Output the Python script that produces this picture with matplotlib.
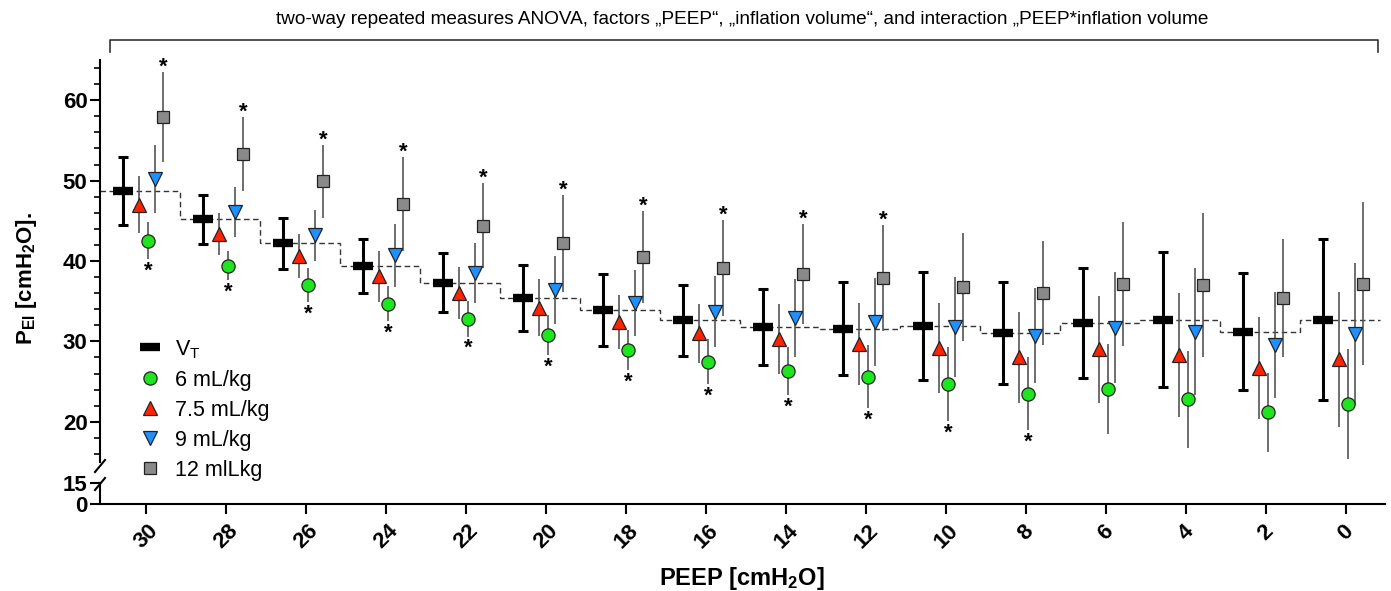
import numpy as np
import matplotlib
matplotlib.use('Agg')
import matplotlib.pyplot as plt
from matplotlib.lines import Line2D
from matplotlib.ticker import MultipleLocator

plt.rcParams['font.family'] = ['Liberation Sans', 'DejaVu Sans']
plt.rcParams['mathtext.fontset'] = 'custom'
plt.rcParams['mathtext.rm'] = 'Liberation Sans'
plt.rcParams['mathtext.bf'] = 'Liberation Sans:bold'
plt.rcParams['mathtext.it'] = 'Liberation Sans:italic'

# PEEP steps (left to right)
peep = [30, 28, 26, 24, 22, 20, 18, 16, 14, 12, 10, 8, 6, 4, 2, 0]

# V_T (pooled) mean +- SD
vt_mean = [48.7, 45.2, 42.2, 39.4, 37.3, 35.4, 33.9, 32.6, 31.8, 31.6, 31.9, 31.0, 32.3, 32.7, 31.2, 32.7]
vt_sd = [4.2, 3.05, 3.15, 3.35, 3.7, 4.05, 4.45, 4.4, 4.75, 5.75, 6.75, 6.35, 6.8, 8.4, 7.25, 10.0]

# inflation volumes
ml6_mean = [42.5, 39.4, 37.0, 34.7, 32.8, 30.8, 28.9, 27.5, 26.3, 25.6, 24.7, 23.5, 24.1, 22.8, 21.2, 22.2]
ml6_sd = [2.3, 1.8, 2.1, 2.2, 2.2, 2.5, 2.5, 2.8, 3.0, 3.9, 4.6, 4.5, 5.6, 6.0, 4.9, 6.8]
ml75_mean = [47.0, 43.4, 40.6, 38.1, 36.0, 34.2, 32.4, 31.0, 30.3, 29.7, 29.2, 28.0, 29.0, 28.3, 26.7, 27.8]
ml75_sd = [3.55, 2.6, 2.75, 3.2, 3.2, 3.5, 3.4, 3.7, 4.3, 5.1, 5.6, 5.7, 6.6, 7.7, 6.3, 8.4]
ml9_mean = [50.2, 46.1, 43.2, 40.7, 38.5, 36.4, 34.8, 33.7, 32.9, 32.4, 31.8, 30.7, 31.7, 31.2, 29.6, 30.9]
ml9_sd = [4.2, 3.1, 3.2, 3.9, 3.7, 4.2, 4.1, 4.45, 4.8, 5.5, 6.2, 5.9, 6.9, 7.9, 6.6, 8.8]
ml12_mean = [57.9, 53.3, 49.9, 47.1, 44.4, 42.2, 40.5, 39.1, 38.4, 37.9, 36.8, 36.0, 37.1, 37.0, 35.4, 37.2]
ml12_sd = [5.6, 4.6, 4.5, 5.8, 5.3, 6.0, 5.7, 6.0, 6.2, 6.6, 6.7, 6.5, 7.7, 9.0, 7.3, 10.1]

# significance stars (True = star)
star_6 = [True] * 12 + [False] * 4
star_12 = [True] * 10 + [False] * 6

title = ('two-way repeated measures ANOVA, factors \u201ePEEP\u201c, \u201einflation volume\u201c, '
         'and interaction \u201ePEEP*inflation volume')

W, H = 1391, 591
fig = plt.figure(figsize=(W / 100, H / 100), dpi=100)

def fx(px):
    return px / W

def fy(px):
    return 1 - px / H

ax_left, ax_right = 100, 1385
ax = fig.add_axes([fx(ax_left), fy(462), fx(ax_right - ax_left), fy(60) - fy(462)])
axb = fig.add_axes([fx(ax_left), fy(504), fx(ax_right - ax_left), fy(483) - fy(504)])

idx = np.arange(len(peep))
xlim = (-0.575, (ax_right - 146) / 80)

# dashed step line of V_T
edges = np.arange(len(peep) + 1) - 0.575
ax.stairs(vt_mean, edges, baseline=None, color='#333333', lw=1.0, ls=(0, (4, 2.5)), zorder=1)

series = [
    (ml75_mean, ml75_sd, -0.09, '^', '#ff2200', 9.5, '7.5 mL/kg'),
    (ml6_mean, ml6_sd, 0.025, 'o', '#1ee61e', 9.5, '6 mL/kg'),
    (ml9_mean, ml9_sd, 0.11, 'v', '#1e90ff', 9.5, '9 mL/kg'),
    (ml12_mean, ml12_sd, 0.21, 's', '#8a8a8a', 9, '12 mlLkg'),
]
for mean, sd, off, mk, col, ms, lab in series:
    ax.errorbar(idx + off, mean, yerr=sd, fmt='none', ecolor='#555555', elinewidth=1.2, zorder=2)
for mean, sd, off, mk, col, ms, lab in series:
    ax.plot(idx + off, mean, ls='none', marker=mk, ms=ms, mfc=col, mec='#222222', mew=0.9, zorder=4)

ax.errorbar(idx - 0.29, vt_mean, yerr=vt_sd, fmt='none', ecolor='black', elinewidth=2.2,
            capsize=3.3, capthick=2.2, zorder=3)
ax.plot(idx - 0.29, vt_mean, ls='none', marker='_', ms=14, mew=6, color='black', zorder=5)

# stars
for i in idx:
    if star_12[i]:
        ax.annotate('*', xy=(i + 0.21, ml12_mean[i] + ml12_sd[i]), xytext=(0, -4),
                    textcoords='offset points', ha='center', va='bottom',
                    fontsize=16, fontweight='bold')
    if star_6[i]:
        ax.annotate('*', xy=(i + 0.025, ml6_mean[i] - ml6_sd[i]), xytext=(0, -1),
                    textcoords='offset points', ha='center', va='top',
                    fontsize=16, fontweight='bold')

# upper axis
ax.set_xlim(*xlim)
ax.set_ylim(15, 65)
ax.set_yticks([20, 30, 40, 50, 60])
ax.yaxis.set_minor_locator(MultipleLocator(2))
for s in ['top', 'right', 'bottom']:
    ax.spines[s].set_visible(False)
ax.spines['left'].set_linewidth(1.5)
ax.tick_params(axis='x', bottom=False, labelbottom=False)
ax.tick_params(axis='y', which='major', length=7, width=1.5, labelsize=16, pad=2)
ax.tick_params(axis='y', which='minor', length=4.5, width=1.2)
for t in ax.get_yticklabels():
    t.set_fontweight('bold')

# lower axis (0-15 segment)
axb.set_xlim(*xlim)
axb.set_ylim(0, 15)
axb.set_yticks([0, 15])
for s in ['top', 'right']:
    axb.spines[s].set_visible(False)
axb.spines['left'].set_linewidth(1.5)
axb.spines['bottom'].set_linewidth(1.5)
axb.set_xticks(idx)
axb.set_xticklabels([str(p) for p in peep], rotation=45, ha='center', fontsize=16, fontweight='bold')
axb.tick_params(axis='x', length=7, width=1.5, pad=5)
axb.tick_params(axis='y', length=7, width=1.5, labelsize=16, pad=2)
for t in axb.get_yticklabels():
    t.set_fontweight('bold')

# break marks
for yb in (466, 484):
    fig.add_artist(Line2D([fx(ax_left - 5), fx(ax_left + 5)], [fy(yb + 6), fy(yb - 6)],
                          color='black', lw=1.5))

# labels
fig.text(fx(27), fy(278), r'P$_{\mathbf{EI}}$ [cmH$_{\mathbf{2}}$O].', rotation=90,
         ha='center', va='center', fontsize=16, fontweight='bold')
fig.text(fx(742), fy(578), r'PEEP [cmH$_{\mathbf{2}}$O]', ha='center', va='center',
         fontsize=17, fontweight='bold')

# bracket and title
fig.add_artist(Line2D([fx(110), fx(110), fx(1378), fx(1378)], [fy(52), fy(40), fy(40), fy(52)],
                      color='#333333', lw=1.2))
fig.text(fx(742), fy(19), title, ha='center', va='center', fontsize=13.7)

# legend
handles = [Line2D([], [], ls='none', marker='_', ms=14, mew=6, color='black')]
labels = [r'V$_\mathrm{T}$']
for lab, mk, col, ms in [('6 mL/kg', 'o', '#1ee61e', 9.5), ('7.5 mL/kg', '^', '#ff2200', 9.5),
                         ('9 mL/kg', 'v', '#1e90ff', 9.5), ('12 mlLkg', 's', '#8a8a8a', 9)]:
    handles.append(Line2D([], [], ls='none', marker=mk, ms=ms, mfc=col, mec='#222222', mew=0.9))
    labels.append(lab)
fig.legend(handles, labels, loc='upper left', bbox_to_anchor=(fx(134), fy(338)), frameon=False,
           fontsize=15.5, labelspacing=0.42, handletextpad=0.4, borderpad=0, borderaxespad=0,
           handlelength=1.5)

fig.savefig('out.png', dpi=100)
